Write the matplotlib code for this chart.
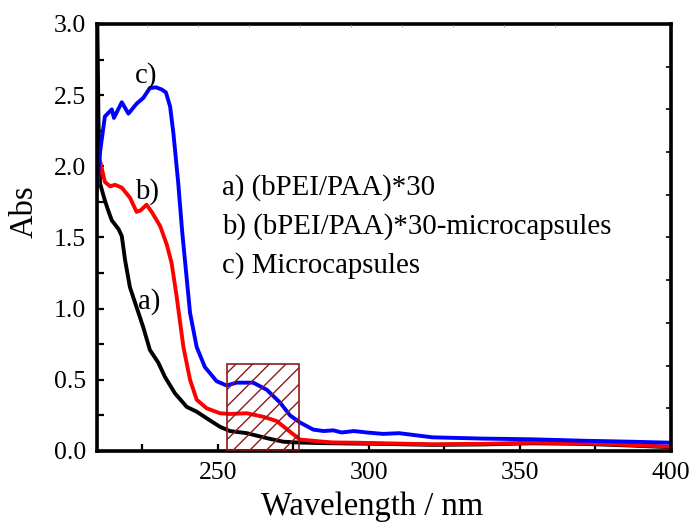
import matplotlib
matplotlib.use('Agg')
import matplotlib.pyplot as plt
from matplotlib.patches import Rectangle

plt.rcParams['font.family'] = ['Liberation Serif', 'DejaVu Serif']
plt.rcParams['hatch.linewidth'] = 1.0

# a) (bPEI/PAA)*30
wl_a = [210, 210.5, 211, 212.6, 213.7, 214.9, 217.1, 218.2, 219.3, 220.9, 223.1, 225.3,
        227.5, 230.3, 232.5, 235.8, 239.7, 243.0, 246.3, 250.7, 254.0, 259.6, 266.2,
        271.7, 276.1, 284.9, 296, 304.7, 321, 337.8, 354, 371, 387, 400]
abs_a = [3.2, 2.3, 1.88, 1.76, 1.69, 1.62, 1.56, 1.51, 1.34, 1.15, 1.01, 0.87,
         0.71, 0.62, 0.52, 0.405, 0.31, 0.276, 0.23, 0.17, 0.14, 0.125, 0.09,
         0.065, 0.06, 0.055, 0.052, 0.05, 0.043, 0.046, 0.054, 0.05, 0.038, 0.026]

# b) (bPEI/PAA)*30-microcapsules
wl_b = [210, 211, 212.6, 214.3, 216, 218.2, 220.9, 223.1, 224.4, 226.4, 228.1, 230.9,
        233.1, 234.7, 236.4, 238.6, 240.8, 243.0, 246.3, 250.7, 254.0, 259.6, 265.1,
        269.5, 273.9, 277.2, 284.9, 288, 296, 304.7, 321, 337.8, 354, 371, 387, 400]
abs_b = [1.84, 2.04, 1.89, 1.86, 1.87, 1.85, 1.78, 1.68, 1.69, 1.73, 1.68, 1.58,
         1.45, 1.32, 1.08, 0.73, 0.50, 0.36, 0.30, 0.265, 0.26, 0.265, 0.24,
         0.21, 0.135, 0.08, 0.065, 0.06, 0.058, 0.054, 0.047, 0.05, 0.058, 0.054, 0.042, 0.03]

# c) Microcapsules
wl_c = [210, 211, 212.6, 214.9, 215.6, 218.2, 220.4, 223.1, 225.3, 227.5, 229.5, 231.4,
        232.8, 234.2, 235.3, 236.9, 238.2, 239.2, 240.8, 243.0, 245.7, 249.6, 252.9,
        256.2, 261.7, 266.2, 270.6, 273.9, 277.2, 281.6, 285, 288.2, 291, 295, 299.3,
        304.7, 310, 321, 337.8, 354, 371, 387, 400]
abs_c = [1.86, 2.1, 2.35, 2.40, 2.34, 2.45, 2.37, 2.44, 2.48, 2.55, 2.555, 2.54,
         2.52, 2.42, 2.23, 1.88, 1.54, 1.32, 0.97, 0.73, 0.59, 0.49, 0.46,
         0.48, 0.48, 0.43, 0.34, 0.25, 0.20, 0.15, 0.14, 0.145, 0.13, 0.14, 0.13,
         0.12, 0.125, 0.096, 0.087, 0.082, 0.072, 0.065, 0.058]

labels = ['a) (bPEI/PAA)*30', 'b) (bPEI/PAA)*30-microcapsules', 'c) Microcapsules']

fig = plt.figure(figsize=(6.89, 5.25), dpi=100)
ax = fig.add_axes([0.1408, 0.141, 0.833, 0.8133])

ax.plot(wl_a, abs_a, color='black', lw=2.8, solid_joinstyle='round')
ax.plot(wl_b, abs_b, color='#ff0000', lw=2.8, solid_joinstyle='round')
ax.plot(wl_c, abs_c, color='#0000ff', lw=2.8, solid_joinstyle='round')

ax.add_patch(Rectangle((252.9, 0), 24.0, 0.61, fill=False, edgecolor='#8b1a1a',
                       hatch='//', lw=1.2, zorder=5))

ax.set_xlim(210, 400)
ax.set_ylim(0, 3.0)
ax.set_xticks([250, 300, 350, 400])
ax.set_xticks([225, 275, 325, 375], minor=True)
ax.set_yticks([0, 0.5, 1.0, 1.5, 2.0, 2.5, 3.0])
ax.set_yticks([0.25, 0.75, 1.25, 1.75, 2.25, 2.75], minor=True)
ax.set_yticklabels(['0.0', '0.5', '1.0', '1.5', '2.0', '2.5', '3.0'])
ax.tick_params(which='both', direction='in', length=5, width=1.6, labelsize=18.5,
               top=False, right=False)
ax.tick_params(axis='y', pad=8)
ax.tick_params(axis='x', pad=8)
for s in ax.spines.values():
    s.set_linewidth(2.6)

# small ticks on the right and top frame
axr = ax.twinx()
axr.set_ylim(0, 3.0)
axr.set_yticks([0.3, 0.6, 0.9, 1.2, 1.5, 1.8, 2.1, 2.4, 2.7])
axr.tick_params(direction='in', length=3.5, width=1.2, labelright=False)
axt = ax.twiny()
axt.set_xlim(0, 1)
axt.set_xticks([0.087, 0.176, 0.265, 0.354, 0.443, 0.532, 0.621, 0.709, 0.798])
axt.tick_params(direction='in', length=2, width=0.6, color='#999999', labeltop=False)

ax.set_xlabel('Wavelength / nm', fontsize=23.5)
ax.xaxis.set_label_coords(0.48, -0.094)
ax.set_ylabel('Abs', fontsize=23.5)
ax.yaxis.set_label_coords(-0.1, 0.56)

ax.text(226.2, 2.64, 'c)', fontsize=20.8, ha='center', va='center')
ax.text(226.5, 1.82, 'b)', fontsize=20.8, ha='center', va='center')
ax.text(227.2, 1.05, 'a)', fontsize=20.8, ha='center', va='center')

for lab, y in zip(labels, [1.85, 1.575, 1.30]):
    ax.text(251.4, y, lab, fontsize=20.8, ha='left', va='center')

fig.savefig('out.png', dpi=100)
